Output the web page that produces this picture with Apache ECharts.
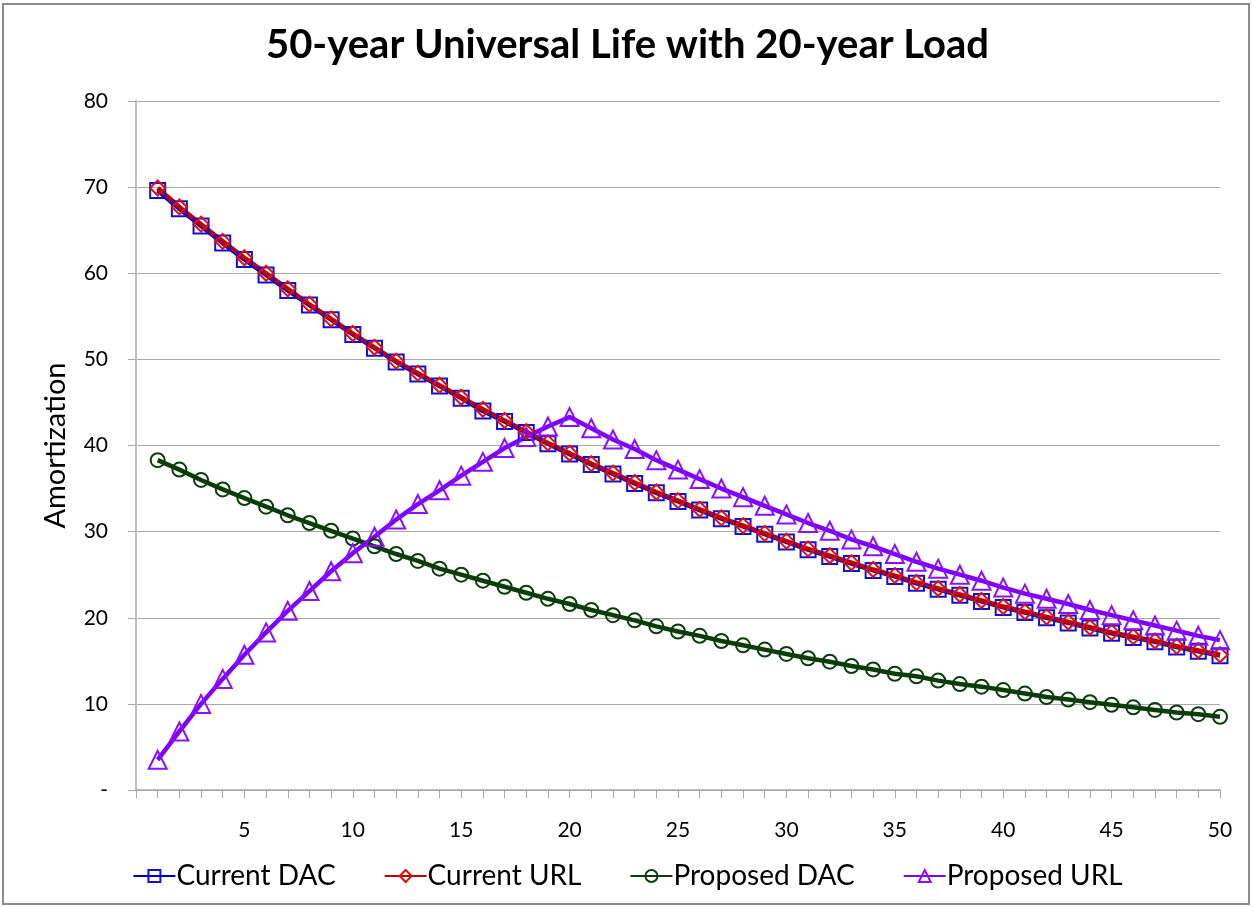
<!DOCTYPE html>
<html>
<head>
<meta charset="utf-8">
<title>50-year Universal Life with 20-year Load</title>
<script src="https://cdn.jsdelivr.net/npm/echarts@6/dist/echarts.min.js"></script>
<style>
  html, body { margin: 0; padding: 0; background: #fff; }
  #echartsMain { width: 1255px; height: 907px; }
</style>
</head>
<body>
<div id="echartsMain"></div>
<script>
// data
var years = [];
for (var i = 1; i <= 50; i++) years.push(i);

var currentDAC = [69.6, 67.5, 65.5, 63.5, 61.6, 59.8, 58.0, 56.3, 54.6, 52.9,
  51.3, 49.7, 48.3, 46.9, 45.5, 44.0, 42.8, 41.5, 40.2, 39.0,
  37.8, 36.7, 35.6, 34.5, 33.5, 32.5, 31.5, 30.6, 29.7, 28.8,
  27.9, 27.1, 26.3, 25.5, 24.8, 24.0, 23.3, 22.6, 21.9, 21.2,
  20.6, 20.0, 19.4, 18.8, 18.2, 17.7, 17.2, 16.6, 16.1, 15.6];

var currentURL = [69.9, 67.7, 65.7, 63.7, 61.8, 60.0, 58.2, 56.4, 54.7, 53.0,
  51.4, 49.8, 48.4, 47.0, 45.6, 44.2, 42.9, 41.6, 40.3, 39.1,
  37.9, 36.8, 35.7, 34.6, 33.6, 32.6, 31.6, 30.7, 29.8, 28.9,
  28.0, 27.2, 26.4, 25.6, 24.9, 24.1, 23.4, 22.7, 22.0, 21.3,
  20.7, 20.1, 19.5, 18.9, 18.3, 17.8, 17.3, 16.7, 16.2, 15.7];

var proposedDAC = [38.3, 37.2, 36.0, 34.9, 33.9, 32.9, 31.9, 31.0, 30.1, 29.2,
  28.3, 27.4, 26.6, 25.7, 25.0, 24.3, 23.6, 22.9, 22.2, 21.6,
  20.9, 20.3, 19.7, 19.0, 18.4, 17.9, 17.3, 16.8, 16.3, 15.8,
  15.3, 14.9, 14.4, 14.0, 13.5, 13.2, 12.7, 12.3, 12.0, 11.6,
  11.2, 10.8, 10.5, 10.2, 9.9, 9.6, 9.3, 9.0, 8.8, 8.5];

var proposedURL = [3.5, 6.8, 10.0, 12.9, 15.7, 18.3, 20.8, 23.1, 25.4, 27.5,
  29.4, 31.4, 33.2, 34.8, 36.5, 38.1, 39.7, 41.0, 42.2, 43.3,
  42.0, 40.7, 39.6, 38.3, 37.2, 36.1, 35.0, 34.0, 33.0, 32.0,
  31.0, 30.1, 29.1, 28.3, 27.4, 26.5, 25.7, 25.0, 24.3, 23.5,
  22.8, 22.2, 21.6, 20.9, 20.3, 19.7, 19.1, 18.5, 17.9, 17.4];

var seriesNames = ['Current DAC', 'Current URL', 'Proposed DAC', 'Proposed URL'];

function pairs(vals) {
  return years.map(function (y, i) { return [y, vals[i]]; });
}

function mkSeries(name, vals, color, markColor, symbol, size) {
  return {
    name: name,
    type: 'line',
    data: pairs(vals),
    symbol: symbol,
    symbolSize: size,
    showAllSymbol: true,
    lineStyle: { color: color, width: 4.5 },
    itemStyle: { color: 'rgba(255,255,255,0)', borderColor: markColor, borderWidth: 2 },
    emphasis: { disabled: true }
  };
}

var myChart = echarts.init(document.getElementById('echartsMain'));

var font = 'Lato, "Open Sans", sans-serif';

var option = {
  backgroundColor: '#fff',
  animation: false,
  textStyle: { fontFamily: font },
  title: {
    text: '50-year Universal Life with 20-year Load',
    left: 'center',
    top: 20,
    textStyle: { fontSize: 40, fontWeight: 'bold', color: '#000', fontFamily: font }
  },
  graphic: [{
    type: 'rect',
    shape: { x: 3, y: 4, width: 1246, height: 900 },
    style: { fill: 'none', stroke: '#8c8c8c', lineWidth: 2 },
    silent: true
  }],
  legend: {
    data: seriesNames,
    bottom: 12,
    left: 'center',
    itemGap: 48,
    itemWidth: 42,
    itemHeight: 15,
    textStyle: { fontSize: 28, color: '#000', fontFamily: font, padding: [0, 0, 0, -4] }
  },
  grid: { left: 136, right: 35, top: 101, bottom: 117 },
  xAxis: {
    type: 'value',
    min: 0,
    max: 50,
    interval: 5,
    axisLine: { show: true, lineStyle: { color: '#a8a8a8', width: 1.5 } },
    axisTick: { show: true, length: 8, lineStyle: { color: '#a8a8a8' } },
    minorTick: { show: true, splitNumber: 5, length: 8, lineStyle: { color: '#a8a8a8' } },
    splitLine: { show: false },
    axisLabel: {
      fontSize: 21, color: '#000', margin: 30, fontFamily: font,
      formatter: function (v) { return v === 0 ? '' : String(v); }
    }
  },
  yAxis: {
    type: 'value',
    min: 0,
    max: 80,
    interval: 10,
    name: 'Amortization',
    nameLocation: 'middle',
    nameGap: 66,
    nameTextStyle: { fontSize: 29, color: '#000', fontFamily: font },
    axisLine: { show: true, lineStyle: { color: '#c0c0c0', width: 2 } },
    axisTick: { show: true, length: 8, lineStyle: { color: '#a8a8a8' } },
    splitLine: { show: true, lineStyle: { color: '#a8a8a8', width: 1.2 } },
    axisLabel: {
      fontSize: 21, color: '#000', margin: 28, fontFamily: font,
      formatter: function (v) { return v === 0 ? '-' : String(v); }
    }
  },
  series: [
    mkSeries('Current DAC', currentDAC, '#0000c0', '#1010d8', 'rect', 15),
    mkSeries('Current URL', currentURL, '#c00000', '#e01010', 'diamond', 15),
    mkSeries('Proposed DAC', proposedDAC, '#0a3d0a', '#0a3d0a', 'circle', 14),
    mkSeries('Proposed URL', proposedURL, '#7f00ff', '#8a10ff', 'triangle', 18)
  ]
};

myChart.setOption(option);
</script>
</body>
</html>
